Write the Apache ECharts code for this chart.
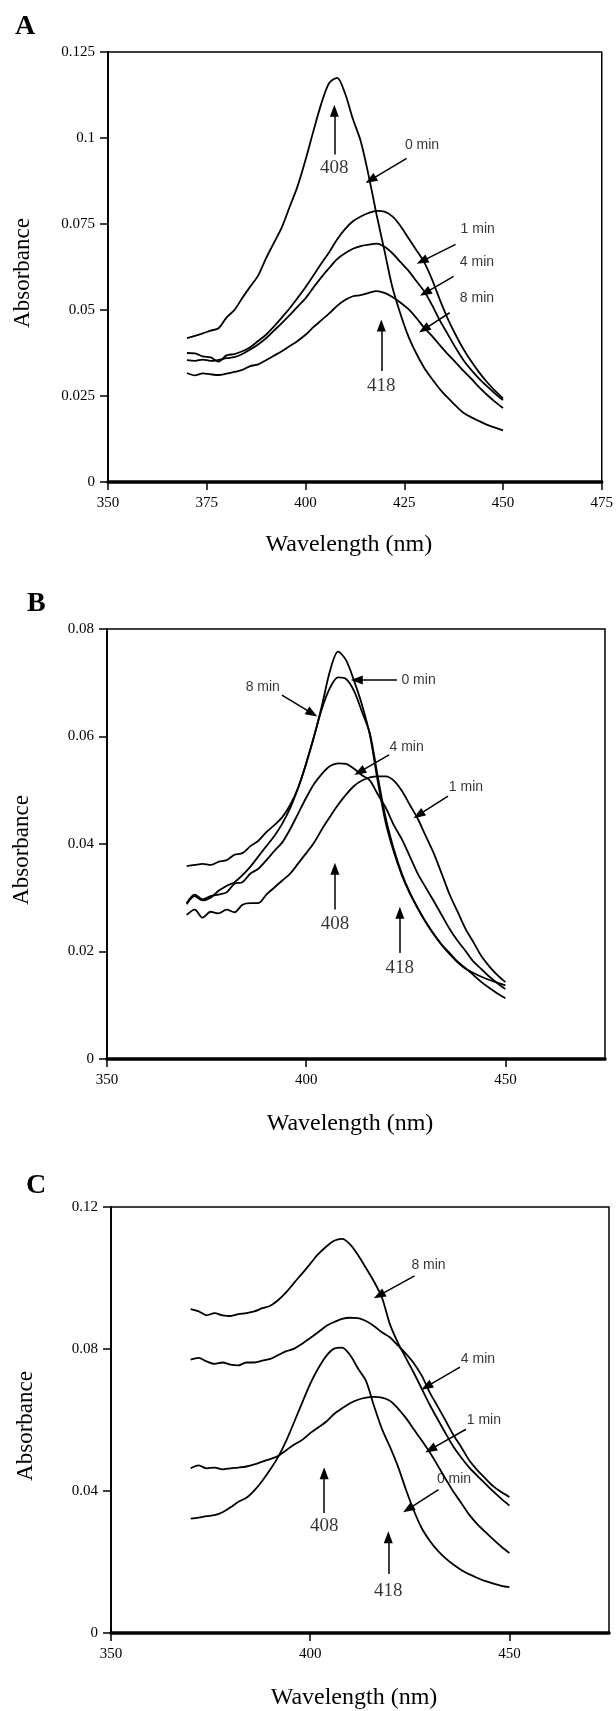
<!DOCTYPE html>
<html>
<head>
<meta charset="utf-8">
<script src="https://cdn.jsdelivr.net/npm/echarts@6/dist/echarts.min.js"></script>
<style>
  html, body { margin: 0; background: #fff; }
  #chart { width: 616px; height: 1711px; }
</style>
</head>
<body>
<div id="chart"></div>
<script>
// wavelength grid shared by every spectrum (nm)
const wavelength = [370, 372, 374, 376, 378, 380, 382, 384, 386, 388, 390, 392, 394, 396, 398, 400, 402, 404, 406, 408,
  410, 412, 414, 416, 418, 420, 422, 424, 426, 428, 430, 432, 434, 436, 438, 440, 442, 444, 446, 448, 450];

const xTicksA = ['350', '375', '400', '425', '450', '475'];
const xTicksBC = ['350', '400', '450'];
const yTicksA = ['0', '0.025', '0.05', '0.075', '0.1', '0.125'];
const yTicksB = ['0', '0.02', '0.04', '0.06', '0.08'];
const yTicksC = ['0', '0.04', '0.08', '0.12'];

// panel A
const a0 = [0.0418, 0.0425, 0.0432, 0.0440, 0.0447, 0.0478, 0.0500, 0.0535, 0.0568, 0.0600, 0.0650, 0.0695, 0.0740, 0.0800, 0.0860, 0.0936, 0.1020, 0.1100, 0.1160, 0.1175,
  0.1130, 0.1055, 0.0990, 0.0890, 0.0777, 0.0672, 0.0566, 0.0490, 0.0425, 0.0375, 0.0333, 0.0300, 0.0270, 0.0245, 0.0222, 0.0201, 0.0188, 0.0177, 0.0166, 0.0158, 0.0150];
const a1 = [0.0375, 0.0374, 0.0365, 0.0362, 0.0350, 0.0368, 0.0372, 0.0380, 0.0392, 0.0410, 0.0428, 0.0452, 0.0478, 0.0505, 0.0535, 0.0566, 0.0600, 0.0635, 0.0668, 0.0705,
  0.0735, 0.0758, 0.0772, 0.0782, 0.0788, 0.0786, 0.0772, 0.0745, 0.0710, 0.0675, 0.0640, 0.0590, 0.0530, 0.0475, 0.0428, 0.0386, 0.0350, 0.0318, 0.0290, 0.0265, 0.0243];
const a4 = [0.0354, 0.0352, 0.0356, 0.0352, 0.0355, 0.0360, 0.0363, 0.0372, 0.0385, 0.0400, 0.0418, 0.0440, 0.0462, 0.0485, 0.0510, 0.0534, 0.0565, 0.0595, 0.0622, 0.0648,
  0.0665, 0.0678, 0.0686, 0.0690, 0.0693, 0.0684, 0.0665, 0.0640, 0.0615, 0.0585, 0.0555, 0.0515, 0.0470, 0.0430, 0.0390, 0.0354, 0.0325, 0.0300, 0.0278, 0.0257, 0.0238];
const a8 = [0.0317, 0.0310, 0.0316, 0.0313, 0.0311, 0.0315, 0.0320, 0.0326, 0.0337, 0.0342, 0.0354, 0.0367, 0.0380, 0.0395, 0.0410, 0.0428, 0.0450, 0.0470, 0.0490, 0.0512,
  0.0529, 0.0540, 0.0543, 0.0550, 0.0555, 0.0550, 0.0538, 0.0522, 0.0503, 0.0478, 0.0449, 0.0425, 0.0398, 0.0372, 0.0348, 0.0323, 0.0300, 0.0275, 0.0253, 0.0233, 0.0215];

// panel B
const b0 = [0.0288, 0.0303, 0.0295, 0.0300, 0.0313, 0.0322, 0.0329, 0.0342, 0.0358, 0.0377, 0.0396, 0.0415, 0.0438, 0.0467, 0.0505, 0.0550, 0.0601, 0.0653, 0.0691, 0.0710,
  0.0707, 0.0685, 0.0646, 0.0605, 0.0524, 0.0447, 0.0390, 0.0345, 0.0310, 0.0281, 0.0255, 0.0233, 0.0213, 0.0197, 0.0181, 0.0169, 0.0156, 0.0143, 0.0132, 0.0122, 0.0113];
const b1 = [0.0268, 0.0278, 0.0263, 0.0274, 0.0271, 0.0278, 0.0273, 0.0287, 0.0290, 0.0290, 0.0306, 0.0319, 0.0332, 0.0345, 0.0364, 0.0383, 0.0403, 0.0428, 0.0451, 0.0473,
  0.0492, 0.0508, 0.0518, 0.0524, 0.0526, 0.0526, 0.0518, 0.0499, 0.0473, 0.0447, 0.0415, 0.0383, 0.0345, 0.0306, 0.0274, 0.0242, 0.0217, 0.0191, 0.0172, 0.0156, 0.0143];
const b4 = [0.0290, 0.0306, 0.0297, 0.0303, 0.0306, 0.0310, 0.0326, 0.0329, 0.0345, 0.0354, 0.0370, 0.0387, 0.0403, 0.0428, 0.0457, 0.0486, 0.0512, 0.0531, 0.0545, 0.0550,
  0.0549, 0.0540, 0.0528, 0.0518, 0.0492, 0.0467, 0.0435, 0.0409, 0.0377, 0.0345, 0.0319, 0.0294, 0.0268, 0.0242, 0.0220, 0.0201, 0.0181, 0.0167, 0.0153, 0.0141, 0.0130];
const b8 = [0.0359, 0.0361, 0.0363, 0.0361, 0.0367, 0.0370, 0.0380, 0.0383, 0.0396, 0.0406, 0.0422, 0.0435, 0.0450, 0.0473, 0.0505, 0.0550, 0.0601, 0.0659, 0.0723, 0.0758,
  0.0742, 0.0704, 0.0659, 0.0602, 0.0515, 0.0438, 0.0385, 0.0342, 0.0308, 0.0280, 0.0255, 0.0232, 0.0212, 0.0195, 0.0180, 0.0168, 0.0160, 0.0153, 0.0147, 0.0142, 0.0137];

// panel C
const c0 = [0.0322, 0.0325, 0.0329, 0.0332, 0.0340, 0.0354, 0.0370, 0.0381, 0.0402, 0.0429, 0.0461, 0.0497, 0.0542, 0.0595, 0.0649, 0.0702, 0.0745, 0.0780, 0.0801, 0.0804,
  0.0783, 0.0745, 0.0710, 0.0640, 0.0575, 0.0525, 0.0470, 0.0405, 0.0345, 0.0295, 0.0260, 0.0232, 0.0210, 0.0192, 0.0177, 0.0165, 0.0155, 0.0146, 0.0139, 0.0133, 0.0129];
const c1 = [0.0464, 0.0472, 0.0464, 0.0466, 0.0461, 0.0464, 0.0466, 0.0469, 0.0475, 0.0483, 0.0490, 0.0499, 0.0515, 0.0531, 0.0544, 0.0563, 0.0579, 0.0595, 0.0617, 0.0633,
  0.0647, 0.0657, 0.0663, 0.0665, 0.0663, 0.0654, 0.0633, 0.0606, 0.0574, 0.0542, 0.0509, 0.0472, 0.0434, 0.0397, 0.0365, 0.0332, 0.0306, 0.0284, 0.0263, 0.0243, 0.0225];
const c4 = [0.0770, 0.0775, 0.0765, 0.0758, 0.0762, 0.0756, 0.0754, 0.0762, 0.0762, 0.0767, 0.0772, 0.0783, 0.0794, 0.0801, 0.0815, 0.0831, 0.0847, 0.0865, 0.0876, 0.0885,
  0.0888, 0.0887, 0.0879, 0.0865, 0.0847, 0.0833, 0.0810, 0.0787, 0.0760, 0.0725, 0.0678, 0.0638, 0.0598, 0.0557, 0.0522, 0.0485, 0.0458, 0.0435, 0.0413, 0.0397, 0.0383];
const c8 = [0.0912, 0.0906, 0.0895, 0.0901, 0.0895, 0.0893, 0.0898, 0.0901, 0.0906, 0.0915, 0.0922, 0.0938, 0.0960, 0.0987, 0.1013, 0.1040, 0.1067, 0.1088, 0.1105, 0.1110,
  0.1095, 0.1065, 0.1028, 0.0990, 0.0945, 0.0870, 0.0818, 0.0775, 0.0733, 0.0688, 0.0643, 0.0602, 0.0562, 0.0524, 0.0493, 0.0465, 0.0442, 0.0420, 0.0398, 0.0378, 0.0359];

// annotation arrows: [tail λ, tail A, tip λ, tip A]
const arrowsA = [[407.3, 0.0952, 407.3, 0.1079], [425.6, 0.0941, 416.5, 0.0878], [438, 0.0691, 429.5, 0.0642],
  [437.5, 0.0598, 430.3, 0.0550], [436.5, 0.0492, 430, 0.0444], [419.2, 0.0323, 419.2, 0.0455]];
const arrowsB = [[393.9, 0.0677, 401.5, 0.0643], [422.8, 0.0705, 412.7, 0.0705], [420.8, 0.0566, 413.4, 0.0534],
  [435.6, 0.0489, 428.2, 0.0454], [407.2, 0.0278, 407.2, 0.0354], [423.5, 0.0197, 423.5, 0.0272]];
const arrowsC = [[426.2, 0.1006, 417.3, 0.0951], [437.6, 0.0749, 429.2, 0.0694], [439.1, 0.0574, 430.2, 0.0517],
  [432.2, 0.0404, 424.6, 0.0349], [403.5, 0.0338, 403.5, 0.0450], [419.6, 0.0166, 419.6, 0.0270]];

// annotation texts: [λ, A, text]
const timeNotesA = [[429.5, 0.0978, '0 min'], [443.6, 0.0735, '1 min'], [443.4, 0.0640, '4 min'], [443.4, 0.0534, '8 min']];
const peakNotesA = [[407.3, 0.0913, '408'], [419.2, 0.0280, '418']];
const timeNotesB = [[389.1, 0.0692, '8 min'], [428.2, 0.0705, '0 min'], [425.2, 0.0581, '4 min'], [440.1, 0.0505, '1 min']];
const peakNotesB = [[407.2, 0.0252, '408'], [423.5, 0.0169, '418']];
const timeNotesC = [[429.7, 0.1037, '8 min'], [442.1, 0.0772, '4 min'], [443.6, 0.0600, '1 min'], [436.1, 0.0434, '0 min']];
const peakNotesC = [[403.5, 0.0300, '408'], [419.6, 0.0118, '418']];

const serif = '"Liberation Serif", "Times New Roman", serif';
const sans = '"Liberation Sans", Arial, sans-serif';

const panels = [
  { letter: 'A', letterPos: [10, 8], grid: { left: 108, top: 52, width: 497, height: 430 }, nameGap: 51,
    xTicks: xTicksA, yTicks: yTicksA, yMax: 0.125, curves: [a0, a1, a4, a8],
    arrows: arrowsA, timeNotes: timeNotesA, peakNotes: peakNotesA },
  { letter: 'B', letterPos: [22, 585], grid: { left: 107, top: 629, width: 498, height: 430 }, nameGap: 53,
    xTicks: xTicksBC, yTicks: yTicksB, yMax: 0.08, curves: [b0, b1, b4, b8],
    arrows: arrowsB, timeNotes: timeNotesB, peakNotes: peakNotesB },
  { letter: 'C', letterPos: [21, 1167], grid: { left: 111, top: 1207, width: 498, height: 430 }, nameGap: 53,
    xTicks: xTicksBC, yTicks: yTicksC, yMax: 0.12, curves: [c0, c1, c4, c8],
    arrows: arrowsC, timeNotes: timeNotesC, peakNotes: peakNotesC }
];

const pick = (ticks) => (v) => ticks.find((t) => Math.abs(+t - v) < 1e-9) || '';

const chart = echarts.init(document.getElementById('chart'));

const option = {
  backgroundColor: '#fff',
  animation: false,
  title: panels.map((p) => ({
    text: p.letter, left: p.letterPos[0], top: p.letterPos[1],
    textStyle: { fontFamily: serif, fontWeight: 'bold', fontSize: 28, color: '#000' }
  })),
  grid: panels.map((p) => ({ ...p.grid, show: true, borderColor: '#000', borderWidth: 1.5, backgroundColor: 'transparent' })),
  xAxis: panels.map((p, k) => ({
    type: 'value', gridIndex: k, min: 350, max: 475,
    name: 'Wavelength (nm)', nameLocation: 'middle', nameGap: p.nameGap,
    nameTextStyle: { fontFamily: serif, fontSize: 24, color: '#000', padding: [0, 12, 0, 0] },
    axisLine: { lineStyle: { color: '#000', width: 3.5 } },
    axisTick: { length: 8, lineStyle: { color: '#000', width: 1.5 }, customValues: p.xTicks.map(Number) },
    axisLabel: { color: '#000', fontFamily: serif, fontSize: 15, margin: 14,
      customValues: p.xTicks.map(Number), formatter: pick(p.xTicks) },
    splitLine: { show: false }
  })),
  yAxis: panels.map((p, k) => ({
    type: 'value', gridIndex: k, min: 0, max: p.yMax,
    name: 'Absorbance', nameLocation: 'middle', nameGap: 74,
    nameTextStyle: { fontFamily: serif, fontSize: 23, color: '#000', padding: [0, 12, 0, 0] },
    axisLine: { show: true, lineStyle: { color: '#000', width: 1.8 } },
    axisTick: { show: true, length: 8, lineStyle: { color: '#000', width: 1.5 }, customValues: p.yTicks.map(Number) },
    axisLabel: { color: '#000', fontFamily: serif, fontSize: 15, margin: 13,
      customValues: p.yTicks.map(Number), formatter: pick(p.yTicks) },
    splitLine: { show: false }
  })),
  series: []
};

panels.forEach((p, k) => {
  p.curves.forEach((vals) => {
    option.series.push({
      type: 'line', xAxisIndex: k, yAxisIndex: k, silent: true,
      showSymbol: false, symbol: 'none', smooth: 0.3,
      lineStyle: { color: '#000', width: 1.8 },
      data: wavelength.map((w, i) => [w, vals[i]])
    });
  });
  const noteItem = (n, font, size) => ({
    value: [n[0], n[1]],
    label: { show: true, position: 'inside', formatter: n[2], fontFamily: font, fontSize: size, color: '#000' }
  });
  option.series.push({
    type: 'scatter', xAxisIndex: k, yAxisIndex: k, silent: true, symbolSize: 0,
    data: p.timeNotes.map((n) => noteItem(n, sans, 14)).concat(p.peakNotes.map((n) => noteItem(n, serif, 19))),
    markLine: {
      silent: true, symbol: ['none', 'triangle'], symbolSize: [9, 12],
      label: { show: false },
      lineStyle: { color: '#000', width: 1.5, type: 'solid' },
      emphasis: { disabled: true },
      data: p.arrows.map((a) => [{ coord: [a[0], a[1]] }, { coord: [a[2], a[3]] }])
    }
  });
});

chart.setOption(option);
</script>
</body>
</html>
